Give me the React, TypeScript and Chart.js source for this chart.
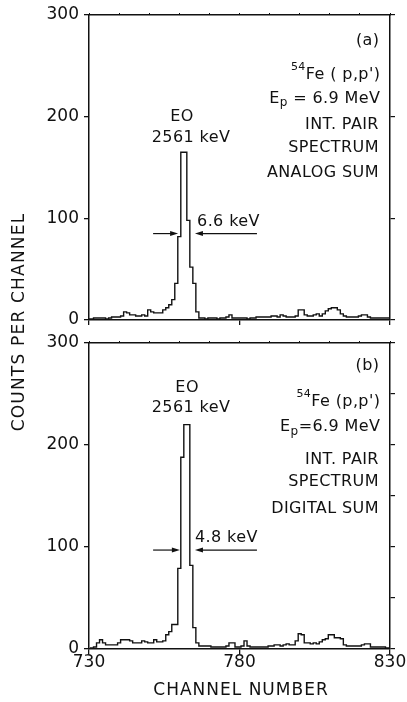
import React, { useEffect, useRef } from "react";
import { Chart, registerables } from "chart.js";

Chart.register(...registerables);

// ---- data ----
const FIRST_CHANNEL = 730;
const channelTicks = [730, 780, 830];
const countTicks = [0, 100, 200, 300];

// (a) analog sum, counts per channel, channels 730..830
const analogCounts = [
  1, 1, 2, 2, 2, 2, 1, 2, 3, 3,
  3, 4, 8, 7, 5, 5, 4, 4, 5, 4,
  10, 8, 7, 7, 7, 10, 12, 15, 20, 36,
  82, 165, 165, 98, 52, 36, 8, 2, 2, 1,
  2, 2, 2, 1, 2, 2, 3, 5, 2, 2,
  2, 2, 2, 1, 2, 2, 3, 3, 3, 3,
  3, 4, 4, 3, 5, 4, 3, 3, 3, 4,
  10, 10, 5, 4, 4, 5, 6, 4, 6, 9,
  11, 12, 12, 10, 6, 4, 3, 3, 3, 3,
  4, 5, 5, 3, 2, 2, 2, 2, 2, 2,
  2,
];

// (b) digital sum, counts per channel, channels 730..830
const digitalCounts = [
  0, 1, 2, 6, 9, 6, 4, 4, 4, 4,
  6, 9, 9, 9, 8, 6, 6, 6, 8, 7,
  6, 6, 9, 7, 7, 8, 14, 17, 24, 24,
  79, 188, 220, 220, 82, 21, 6, 3, 3, 3,
  3, 2, 2, 2, 2, 2, 3, 6, 6, 2,
  2, 3, 8, 3, 2, 2, 2, 2, 2, 2,
  3, 3, 4, 4, 3, 4, 5, 4, 4, 8,
  15, 14, 6, 6, 5, 6, 5, 7, 9, 10,
  14, 14, 11, 11, 10, 4, 3, 3, 3, 3,
  3, 4, 5, 5, 2, 2, 2, 2, 2, 1,
  1,
];

// ---- annotations (data coordinates) ----
type Run = { t: string; size?: number; dy?: number };
type Label = { runs: Run[]; x: number; y: number; align: "left" | "center" | "right" };
type Arrow = { x0: number; x1: number; y: number };

const panelA = {
  labels: [
    { runs: [{ t: "(a)" }], x: 826.5, y: 275, align: "right" },
    { runs: [{ t: "54", size: 11, dy: -8 }, { t: "Fe ( p,p')" }], x: 826.8, y: 241, align: "right" },
    { runs: [{ t: "E" }, { t: "p", size: 12, dy: 5 }, { t: " = 6.9 MeV" }], x: 826.8, y: 218, align: "right" },
    { runs: [{ t: "INT. PAIR" }], x: 826.3, y: 192, align: "right" },
    { runs: [{ t: "SPECTRUM" }], x: 826.3, y: 169, align: "right" },
    { runs: [{ t: "ANALOG SUM" }], x: 826.3, y: 145, align: "right" },
    { runs: [{ t: "EO" }], x: 760.9, y: 200, align: "center" },
    { runs: [{ t: "2561 keV" }], x: 763.9, y: 179, align: "center" },
    { runs: [{ t: "6.6 keV" }], x: 765.9, y: 97, align: "left" },
  ] as Label[],
  arrows: [
    { x0: 751.3, x1: 759.6, y: 85 },
    { x0: 785.8, x1: 765.2, y: 85 },
  ] as Arrow[],
  pageTexts: true,
};

const panelB = {
  labels: [
    { runs: [{ t: "(b)" }], x: 826.5, y: 278, align: "right" },
    { runs: [{ t: "54", size: 11, dy: -8 }, { t: "Fe (p,p')" }], x: 826.8, y: 242, align: "right" },
    { runs: [{ t: "E" }, { t: "p", size: 12, dy: 5 }, { t: "=6.9 MeV" }], x: 826.8, y: 218, align: "right" },
    { runs: [{ t: "INT. PAIR" }], x: 826.3, y: 185, align: "right" },
    { runs: [{ t: "SPECTRUM" }], x: 826.3, y: 164, align: "right" },
    { runs: [{ t: "DIGITAL SUM" }], x: 826.3, y: 137, align: "right" },
    { runs: [{ t: "EO" }], x: 762.6, y: 256, align: "center" },
    { runs: [{ t: "2561 keV" }], x: 763.9, y: 236, align: "center" },
    { runs: [{ t: "4.8 keV" }], x: 765.2, y: 109, align: "left" },
  ] as Label[],
  arrows: [
    { x0: 751.3, x1: 760.2, y: 97 },
    { x0: 785.8, x1: 765.2, y: 97 },
  ] as Arrow[],
  pageTexts: false,
};

// ---- styling / layout ----
const FONT = "'DejaVu Sans', sans-serif";
const INK = "#111";
const W = 407;
const H = 702;
const PLOT_LEFT = 89;
const PLOT_RIGHT = 390;
const RIGHT_W = 8;
const TOP_H = 4;

const annotationPlugin = {
  id: "annotations",
  afterDatasetsDraw(chart: any, _args: any, opts: any) {
    const { ctx } = chart;
    const xs = chart.scales.x;
    const ys = chart.scales.y;
    ctx.save();
    ctx.fillStyle = INK;
    ctx.strokeStyle = INK;
    ctx.textBaseline = "middle";
    ctx.textAlign = "left";
    (ctx as any).letterSpacing = "0.4px";
    for (const lab of (opts.labels || []) as Label[]) {
      const px = xs.getPixelForValue(lab.x);
      const py = ys.getPixelForValue(lab.y);
      let total = 0;
      const widths = lab.runs.map((r) => {
        ctx.font = `${r.size ?? 16}px ${FONT}`;
        const w = ctx.measureText(r.t).width;
        total += w;
        return w;
      });
      let cx = lab.align === "right" ? px - total : lab.align === "center" ? px - total / 2 : px;
      lab.runs.forEach((r, i) => {
        ctx.font = `${r.size ?? 16}px ${FONT}`;
        ctx.fillText(r.t, cx, py + (r.dy ?? 0));
        cx += widths[i];
      });
    }
    for (const a of (opts.arrows || []) as Arrow[]) {
      const x0 = xs.getPixelForValue(a.x0);
      const x1 = xs.getPixelForValue(a.x1);
      const y = ys.getPixelForValue(a.y);
      const dir = Math.sign(x1 - x0);
      ctx.lineWidth = 1.2;
      ctx.beginPath();
      ctx.moveTo(x0, y);
      ctx.lineTo(x1 - dir * 5, y);
      ctx.stroke();
      ctx.beginPath();
      ctx.moveTo(x1, y);
      ctx.lineTo(x1 - dir * 8, y - 2.5);
      ctx.lineTo(x1 - dir * 8, y + 2.5);
      ctx.closePath();
      ctx.fill();
    }
    if (opts.pageTexts) {
      (ctx as any).letterSpacing = "1.2px";
      ctx.font = `17px ${FONT}`;
      ctx.textAlign = "center";
      ctx.save();
      ctx.translate(20, 322);
      ctx.rotate(-Math.PI / 2);
      ctx.fillText("COUNTS PER CHANNEL", 0, 0);
      ctx.restore();
      (ctx as any).letterSpacing = "1px";
      ctx.fillText("CHANNEL NUMBER", 241, 691);
    }
    ctx.restore();
  },
};

function makeConfig(
  counts: number[],
  panel: any,
  top: number,
  bottom: number,
  showXLabels: boolean,
  rightStep: number
) {
  const bottomH = showXLabels ? H - bottom : 6;
  const tickFont = { family: FONT, size: 17, lineHeight: 1 };
  const border = { display: true, color: INK, width: 1.5 };
  return {
    type: "line",
    data: {
      datasets: [
        {
          data: counts.map((c, i) => ({ x: FIRST_CHANNEL + i, y: c })),
          borderColor: INK,
          borderWidth: 1.4,
          stepped: "middle",
          pointRadius: 0,
          fill: false,
        },
      ],
    },
    options: {
      animation: false,
      responsive: false,
      layout: {
        padding: {
          left: 0,
          right: W - PLOT_RIGHT - RIGHT_W,
          top: top - TOP_H,
          bottom: H - bottom - bottomH,
        },
      },
      plugins: {
        legend: { display: false },
        tooltip: { enabled: false },
        annotations: panel,
      },
      scales: {
        x: {
          type: "linear",
          position: "bottom",
          min: 730,
          max: 830,
          afterBuildTicks: (s: any) => {
            s.ticks = channelTicks.map((v) => ({ value: v }));
          },
          ticks: { display: showXLabels, font: tickFont, color: INK, padding: 0, maxRotation: 0, autoSkip: false },
          grid: { drawOnChartArea: false, drawTicks: true, tickLength: 5, color: INK, lineWidth: 1.3 },
          border,
          afterFit: (s: any) => {
            s.height = bottomH;
          },
        },
        xTop: {
          type: "linear",
          position: "top",
          min: 730,
          max: 830,
          ticks: { display: false, stepSize: 10 },
          grid: { drawOnChartArea: false, drawTicks: true, tickLength: 2, color: INK, lineWidth: 1 },
          border,
          afterFit: (s: any) => {
            s.height = TOP_H;
          },
        },
        y: {
          type: "linear",
          position: "left",
          min: 0,
          max: 300,
          afterBuildTicks: (s: any) => {
            s.ticks = countTicks.map((v) => ({ value: v }));
          },
          ticks: { font: tickFont, color: INK, padding: 5 },
          grid: { drawOnChartArea: false, drawTicks: true, tickLength: 5, color: INK, lineWidth: 1.3 },
          border,
          afterFit: (s: any) => {
            s.width = PLOT_LEFT;
          },
        },
        yRight: {
          type: "linear",
          position: "right",
          min: 0,
          max: 300,
          ticks: { display: false, stepSize: rightStep },
          grid: { drawOnChartArea: false, drawTicks: true, tickLength: 5, color: INK, lineWidth: 1.2 },
          border,
          afterFit: (s: any) => {
            s.width = RIGHT_W;
          },
        },
      },
    },
    plugins: [annotationPlugin],
  };
}

export default function App() {
  const topRef = useRef<HTMLCanvasElement | null>(null);
  const botRef = useRef<HTMLCanvasElement | null>(null);

  useEffect(() => {
    const a = new Chart(topRef.current as HTMLCanvasElement, makeConfig(analogCounts, panelA, 15, 320, false, 100) as any);
    const b = new Chart(botRef.current as HTMLCanvasElement, makeConfig(digitalCounts, panelB, 343, 649, true, 50) as any);
    return () => {
      a.destroy();
      b.destroy();
    };
  }, []);

  const cs: React.CSSProperties = { position: "absolute", left: 0, top: 0, width: W, height: H };
  return (
    <div style={{ position: "fixed", left: 0, top: 0, width: W, height: H, background: "#fff" }}>
      <canvas ref={topRef} width={W} height={H} style={cs} />
      <canvas ref={botRef} width={W} height={H} style={cs} />
    </div>
  );
}
